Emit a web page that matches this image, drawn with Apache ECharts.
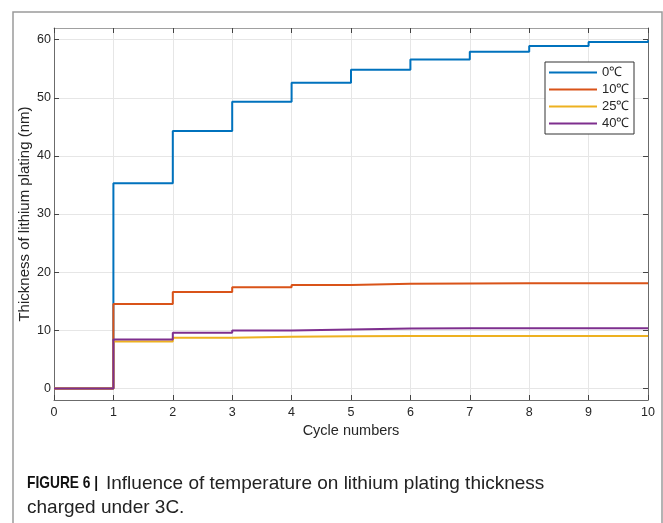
<!DOCTYPE html>
<html>
<head>
<meta charset="utf-8">
<script src="https://cdn.jsdelivr.net/npm/echarts@6/dist/echarts.min.js"></script>
<style>
  html, body { margin: 0; padding: 0; background: #fff; }
  #chart { width: 663px; height: 523px; }
</style>
</head>
<body>
<div id="chart"></div>
<script>
// Cycle index (x) and plated lithium thickness in nm for each temperature.
// Each value holds from its cycle until the next one (step at the end).
const cycles = [0, 1, 2, 3, 4, 5, 6, 7, 8, 9, 10];
const temps = ['0℃', '10℃', '25℃', '40℃'];
const thick0 = [0, 35.3, 44.3, 49.3, 52.6, 54.8, 56.6, 57.9, 58.9, 59.6, 59.9];
const thick10 = [0, 14.5, 16.6, 17.4, 17.8, 18.0, 18.05, 18.1, 18.1, 18.1, 18.15];
const thick25 = [0, 8.05, 8.7, 8.9, 8.97, 9.0, 9.0, 9.0, 9.0, 9.0, 9.0];
const thick40 = [0, 8.4, 9.55, 9.95, 10.15, 10.3, 10.33, 10.35, 10.35, 10.35, 10.35];
const yTicks = [0, 10, 20, 30, 40, 50, 60];
const colors = ['#0072BD', '#D95319', '#EDB120', '#7E2F8E'];

const chart = echarts.init(document.getElementById('chart'), null, { renderer: 'canvas' });
const FONT = 'Liberation Sans, Arial, sans-serif';
const allSeries = [thick0, thick10, thick25, thick40];

const series = allSeries.map((vals, i) => ({
  name: temps[i],
  type: 'line',
  step: 'end',
  xAxisIndex: 0,
  yAxisIndex: 0,
  symbol: 'none',
  data: cycles.map((c, k) => [c, vals[k]]),
  lineStyle: { color: colors[i], width: 2 },
  itemStyle: { color: colors[i] },
  z: 3 + i
}));

const axisLineColor = '#6b6b6b';
const labelStyle = { color: '#262626', fontSize: 12.5, fontFamily: FONT };

chart.setOption({
  animation: false,
  backgroundColor: '#fff',
  grid: { left: 54, right: 15, top: 28, bottom: 123, containLabel: false },
  xAxis: [
    {
      type: 'value', min: 0, max: 10, interval: 1, position: 'bottom',
      name: 'Cycle numbers', nameLocation: 'middle', nameGap: 23, nameMoveOverlap: false,
      nameTextStyle: { color: '#262626', fontSize: 14.5, fontFamily: FONT },
      axisLine: { show: true, onZero: false, lineStyle: { color: axisLineColor, width: 1 } },
      axisTick: { show: true, inside: true, length: 5, lineStyle: { color: '#444' } },
      axisLabel: Object.assign({ margin: 6 }, labelStyle),
      splitLine: { show: true, lineStyle: { color: '#e6e6e6', width: 1 } }
    },
    {
      type: 'value', min: 0, max: 10, interval: 1, position: 'top',
      axisLine: { show: true, onZero: false, lineStyle: { color: '#a0a0a0', width: 1 } },
      axisTick: { show: true, inside: true, length: 5, lineStyle: { color: '#444' } },
      axisLabel: { show: false },
      splitLine: { show: false }
    }
  ],
  yAxis: [
    {
      type: 'value', min: -2, max: 62, position: 'left',
      name: 'Thickness of lithium plating (nm)', nameLocation: 'middle', nameGap: 22,
      nameMoveOverlap: false,
      nameTextStyle: { color: '#262626', fontSize: 15, fontFamily: FONT },
      axisLine: { show: true, onZero: false, lineStyle: { color: axisLineColor, width: 1 } },
      axisTick: { show: true, inside: true, length: 5, customValues: yTicks, lineStyle: { color: '#444' } },
      axisLabel: Object.assign({ margin: 3, customValues: yTicks }, labelStyle),
      splitLine: { show: true, lineStyle: { color: '#e6e6e6', width: 1 } }
    },
    {
      type: 'value', min: -2, max: 62, position: 'right',
      axisLine: { show: true, onZero: false, lineStyle: { color: axisLineColor, width: 1 } },
      axisTick: { show: true, inside: true, length: 5, customValues: yTicks, lineStyle: { color: '#444' } },
      axisLabel: { show: false, customValues: yTicks },
      splitLine: { show: false }
    }
  ],
  legend: {
    data: temps,
    orient: 'vertical',
    left: 545, top: 62,
    padding: [4, 4, 4, 4],
    itemGap: 4,
    itemWidth: 48, itemHeight: 2,
    icon: 'rect',
    itemStyle: { borderWidth: 0 },
    backgroundColor: '#fff',
    borderColor: '#333', borderWidth: 1, borderRadius: 0,
    textStyle: { color: '#262626', fontSize: 13, fontFamily: FONT, width: 28, align: 'right', lineHeight: 13 }
  },
  series: series,
  graphic: [
    {
      type: 'polyline', silent: true,
      shape: { points: [[13, 523], [13, 12], [662, 12], [662, 523]] },
      style: { stroke: '#9a9a9a', lineWidth: 1.5, fill: null }
    },
    {
      type: 'text', left: 27, top: 475, silent: true,
      scaleX: 0.81, originX: 0, originY: 0,
      style: {
        text: 'FIGURE 6 |',
        fontSize: 17, fontWeight: 'bold', fontFamily: FONT,
        fill: '#111'
      }
    },
    {
      type: 'text', left: 106, top: 474, silent: true,
      style: {
        text: 'Influence of temperature on lithium plating thickness',
        fontSize: 19, fontFamily: FONT, fill: '#222'
      }
    },
    {
      type: 'text', left: 27, top: 498, silent: true,
      style: {
        text: 'charged under 3C.',
        fontSize: 19, fontFamily: FONT, fill: '#222'
      }
    }
  ]
});
</script>
</body>
</html>
